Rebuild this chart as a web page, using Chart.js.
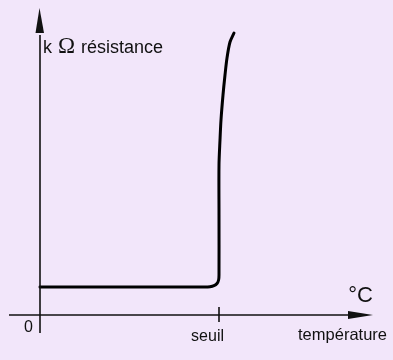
<!DOCTYPE html>
<html>
<head>
<meta charset="utf-8">
<script src="https://cdn.jsdelivr.net/npm/chart.js@4"></script>
<style>
  html, body { margin: 0; padding: 0; background: #f2e6fa; }
  #wrap { width: 393px; height: 360px; position: relative; }
</style>
</head>
<body>
<div id="wrap"><canvas id="graph"></canvas></div>
<script>
var temperature = [0, 165, 170, 174, 177, 178.6, 179, 179, 179, 180, 181, 183, 185, 187, 190, 194];
var resistance = [28, 28, 28.3, 29.3, 31.5, 35, 40, 100, 150, 175, 195, 220, 240, 257, 273, 282];

// graduations de l'axe des abscisses
var tickValues = [0, 179];
var tickLabels = ['0', 'seuil'];

var axisLabelX = 'température';
var unitX = '°C';
var axisLabelY = ['k ', 'Ω', ' résistance'];

var points = temperature.map(function (t, i) { return { x: t, y: resistance[i] }; });

// dessin des axes, flèches et textes
var axesPlugin = {
    id: 'axes',
    beforeDraw: function (chart) {
        var ctx = chart.ctx;
        ctx.save();
        ctx.fillStyle = '#f2e6fa';
        ctx.fillRect(0, 0, chart.width, chart.height);
        ctx.restore();
    },
    afterDatasetsDraw: function (chart) {
        var ctx = chart.ctx;
        var sx = chart.scales.x, sy = chart.scales.y;
        var x0 = sx.getPixelForValue(0);
        var y0 = sy.getPixelForValue(0);

        ctx.save();
        ctx.strokeStyle = '#111';
        ctx.fillStyle = '#111';
        ctx.lineWidth = 1.6;

        // axe horizontal
        ctx.beginPath();
        ctx.moveTo(x0 - 31, y0);
        ctx.lineTo(x0 + 312, y0);
        ctx.stroke();
        ctx.beginPath();
        ctx.moveTo(x0 + 333, y0);
        ctx.lineTo(x0 + 308, y0 - 4);
        ctx.lineTo(x0 + 308, y0 + 4);
        ctx.closePath();
        ctx.fill();

        // axe vertical
        ctx.beginPath();
        ctx.moveTo(x0, y0 + 18);
        ctx.lineTo(x0, y0 - 280);
        ctx.stroke();
        ctx.beginPath();
        ctx.moveTo(x0 - 0.5, y0 - 307);
        ctx.lineTo(x0 - 4.5, y0 - 282);
        ctx.lineTo(x0 + 4, y0 - 282);
        ctx.closePath();
        ctx.fill();

        // graduation "seuil"
        var xs = sx.getPixelForValue(tickValues[1]);
        ctx.beginPath();
        ctx.moveTo(xs, y0 - 8);
        ctx.lineTo(xs, y0 + 7);
        ctx.stroke();

        // textes
        ctx.textBaseline = 'alphabetic';
        ctx.font = '16px "Liberation Sans", Arial, sans-serif';
        ctx.textAlign = 'right';
        ctx.fillText(tickLabels[0], x0 - 7, y0 + 17);
        ctx.fillText(tickLabels[1], xs + 5, y0 + 26);
        ctx.font = '16.5px "Liberation Sans", Arial, sans-serif';
        ctx.fillText(axisLabelX, 387, y0 + 25);

        ctx.font = '22px "Liberation Sans", Arial, sans-serif';
        ctx.fillText(unitX, 373, y0 - 13);

        ctx.textAlign = 'left';
        var tx = x0 + 3, ty = 53;
        ctx.font = '18px "Liberation Sans", Arial, sans-serif';
        ctx.fillText(axisLabelY[0], tx, ty);
        tx += ctx.measureText(axisLabelY[0]).width + 1;
        ctx.font = '23px "Liberation Serif", "Times New Roman", serif';
        ctx.fillText(axisLabelY[1], tx, ty);
        tx += ctx.measureText(axisLabelY[1]).width + 1;
        ctx.font = '18px "Liberation Sans", Arial, sans-serif';
        ctx.fillText(axisLabelY[2], tx, ty);

        ctx.restore();
    }
};

var ctxGraph = document.getElementById('graph').getContext('2d');
var graphique = new Chart(ctxGraph, {
    type: 'line',
    data: {
        datasets: [{
            data: points,
            borderColor: '#000',
            borderWidth: 3,
            borderCapStyle: 'round',
            borderJoinStyle: 'round',
            tension: 0.3,
            pointRadius: 0,
            fill: false
        }]
    },
    options: {
        responsive: true,
        maintainAspectRatio: false,
        animation: false,
        layout: { padding: 0 },
        scales: {
            x: { type: 'linear', display: false, min: -40, max: 353 },
            y: { type: 'linear', display: false, min: -45, max: 315 }
        },
        plugins: {
            legend: { display: false },
            tooltip: { enabled: false }
        }
    },
    plugins: [axesPlugin]
});
</script>
</body>
</html>
